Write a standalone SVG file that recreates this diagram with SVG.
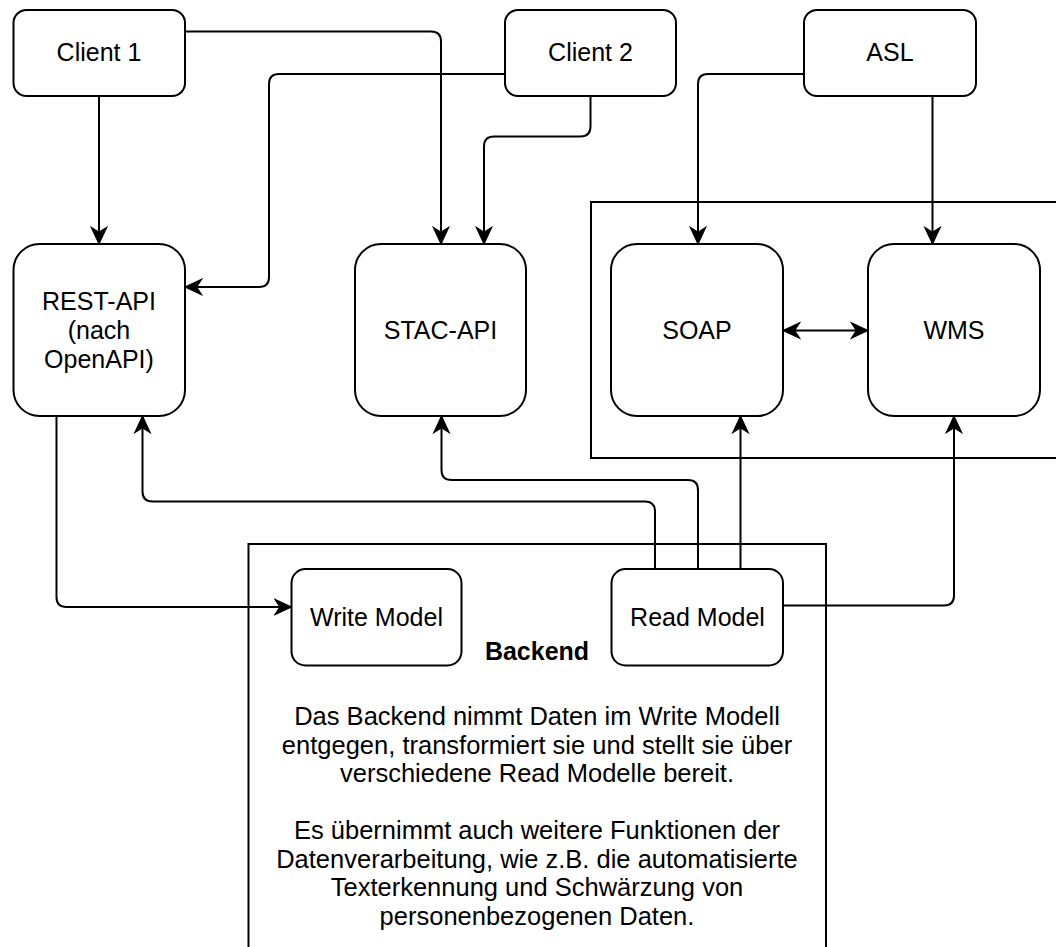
<svg xmlns="http://www.w3.org/2000/svg" width="1056" height="947" viewBox="0 0 1056 947">
  <defs>
    <style>
      .box { fill: #ffffff; stroke: #000000; stroke-width: 2; }
      .frame { fill: none; stroke: #000000; stroke-width: 2; }
      .edge { fill: none; stroke: #000000; stroke-width: 2; }
      .lbl { font-family: "Liberation Sans", Arial, Helvetica, sans-serif; font-size: 25px; fill: #000000; text-anchor: middle; }
      .body { font-size: 25.5px; }
      .bold { font-weight: bold; }
    </style>
    <marker id="arrow" markerUnits="userSpaceOnUse" markerWidth="20" markerHeight="20" viewBox="-16 -8 18 16" refX="0" refY="0" orient="auto">
      <path d="M0,0 L-15,-7 L-10.5,0 L-15,7 Z" fill="#000000" stroke="#000000" stroke-width="1"/>
    </marker>
    <marker id="arrowStart" markerUnits="userSpaceOnUse" markerWidth="20" markerHeight="20" viewBox="-16 -8 18 16" refX="0" refY="0" orient="auto-start-reverse">
      <path d="M0,0 L-15,-7 L-10.5,0 L-15,7 Z" fill="#000000" stroke="#000000" stroke-width="1"/>
    </marker>
  </defs>

  <rect width="1056" height="947" fill="#ffffff"/>

  <!-- container around the OGC services -->
  <g id="services-group">
    <rect class="frame" x="591" y="202" width="480" height="256"/>
  </g>

  <!-- backend container with its description -->
  <g id="backend">
    <rect class="box" x="248.5" y="544" width="577.5" height="420"/>
    <text class="lbl bold" x="537" y="660">Backend</text>
    <text class="lbl body" x="537" y="725">Das Backend nimmt Daten im Write Modell</text>
    <text class="lbl body" x="537" y="753.5">entgegen, transformiert sie und stellt sie über</text>
    <text class="lbl body" x="537" y="782">verschiedene Read Modelle bereit.</text>
    <text class="lbl body" x="537" y="839">Es übernimmt auch weitere Funktionen der</text>
    <text class="lbl body" x="537" y="867.5">Datenverarbeitung, wie z.B. die automatisierte</text>
    <text class="lbl body" x="537" y="896">Texterkennung und Schwärzung von</text>
    <text class="lbl body" x="537" y="924.5">personenbezogenen Daten.</text>
  </g>

  <!-- connectors -->
  <g id="connectors">
    <path class="edge" d="M99,96 L99,244" marker-end="url(#arrow)"/>
    <path class="edge" d="M185,31.5 L431,31.5 Q441,31.5 441,41.5 L441,244" marker-end="url(#arrow)"/>
    <path class="edge" d="M505,74 L279,74 Q269,74 269,84 L269,277 Q269,287 259,287 L185,287" marker-end="url(#arrow)"/>
    <path class="edge" d="M590.5,96 L590.5,126.5 Q590.5,136.5 580.5,136.5 L494,136.5 Q484,136.5 484,146.5 L484,244" marker-end="url(#arrow)"/>
    <path class="edge" d="M804,74 L708,74 Q698,74 698,84 L698,244" marker-end="url(#arrow)"/>
    <path class="edge" d="M932.5,96 L932.5,244" marker-end="url(#arrow)"/>
    <path class="edge" d="M783,330.5 L868,330.5" marker-start="url(#arrowStart)" marker-end="url(#arrow)"/>
    <path class="edge" d="M56.5,416 L56.5,597 Q56.5,607 66.5,607 L291.5,607" marker-end="url(#arrow)"/>
    <path class="edge" d="M655,569 L655,511.5 Q655,501.5 645,501.5 L152.5,501.5 Q142.5,501.5 142.5,491.5 L142.5,416" marker-end="url(#arrow)"/>
    <path class="edge" d="M698,569 L698,490 Q698,480 688,480 L451.5,480 Q441.5,480 441.5,470 L441.5,416" marker-end="url(#arrow)"/>
    <path class="edge" d="M740.5,569 L740.5,416" marker-end="url(#arrow)"/>
    <path class="edge" d="M783,605.5 L944,605.5 Q954,605.5 954,595.5 L954,416" marker-end="url(#arrow)"/>
  </g>

  <!-- nodes -->
  <g id="client1">
    <rect class="box" x="13.5" y="10" width="171.5" height="86" rx="13" ry="13"/>
    <text class="lbl" x="99" y="61">Client 1</text>
  </g>
  <g id="client2">
    <rect class="box" x="505" y="10" width="171" height="86" rx="13" ry="13"/>
    <text class="lbl" x="590.5" y="61">Client 2</text>
  </g>
  <g id="asl">
    <rect class="box" x="804" y="10" width="172" height="86" rx="13" ry="13"/>
    <text class="lbl" x="890" y="61">ASL</text>
  </g>
  <g id="rest-api">
    <rect class="box" x="13.5" y="244" width="171.5" height="172" rx="26" ry="26"/>
    <text class="lbl" x="99" y="310">REST-API</text>
    <text class="lbl" x="99" y="339">(nach</text>
    <text class="lbl" x="99" y="368">OpenAPI)</text>
  </g>
  <g id="stac-api">
    <rect class="box" x="355" y="244" width="171" height="172" rx="26" ry="26"/>
    <text class="lbl" x="440.5" y="339">STAC-API</text>
  </g>
  <g id="soap">
    <rect class="box" x="611" y="244" width="172" height="172" rx="26" ry="26"/>
    <text class="lbl" x="697" y="339">SOAP</text>
  </g>
  <g id="wms">
    <rect class="box" x="868" y="244" width="172" height="172" rx="26" ry="26"/>
    <text class="lbl" x="954" y="339">WMS</text>
  </g>
  <g id="write-model">
    <rect class="box" x="291.5" y="569" width="170" height="96.5" rx="14" ry="14"/>
    <text class="lbl" x="376.5" y="626">Write Model</text>
  </g>
  <g id="read-model">
    <rect class="box" x="611.5" y="569" width="171.5" height="96.5" rx="14" ry="14"/>
    <text class="lbl" x="697.5" y="626">Read Model</text>
  </g>
</svg>
